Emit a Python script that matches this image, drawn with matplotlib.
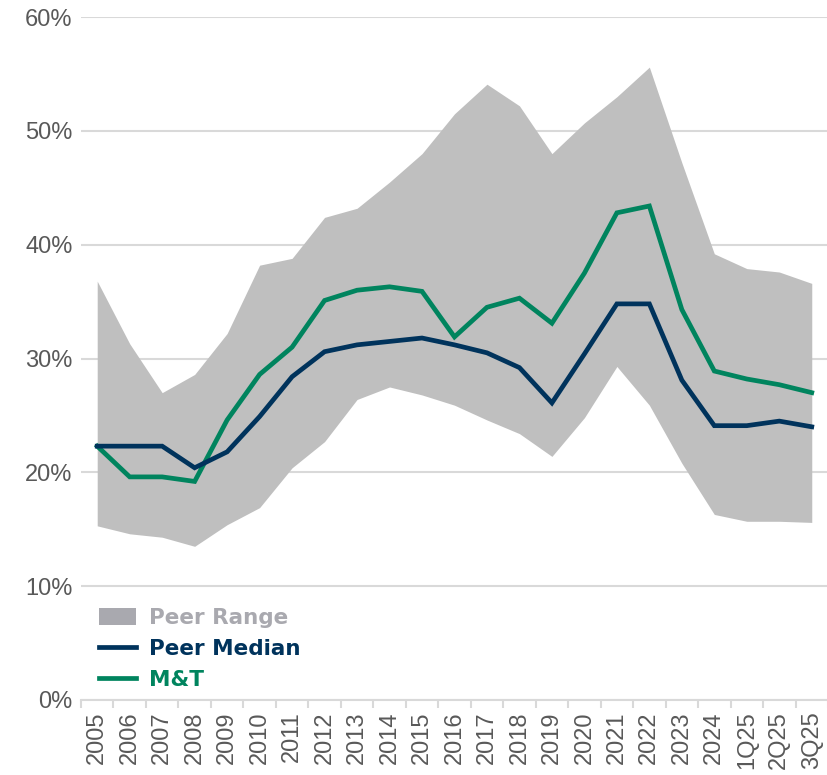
import numpy as np
import matplotlib
matplotlib.use("Agg")
import matplotlib.pyplot as plt
from matplotlib.patches import Patch
from matplotlib.lines import Line2D

plt.rcParams['font.family'] = ['Liberation Sans', 'DejaVu Sans']

categories = ["2005", "2006", "2007", "2008", "2009", "2010", "2011", "2012",
              "2013", "2014", "2015", "2016", "2017", "2018", "2019", "2020",
              "2021", "2022", "2023", "2024", "1Q25", "2Q25", "3Q25"]

range_high = [36.8, 31.3, 27.0, 28.6, 32.2, 38.2, 38.8, 42.4, 43.2, 45.5, 48.0,
              51.5, 54.1, 52.2, 48.0, 50.7, 53.0, 55.6, 47.2, 39.2, 37.9, 37.6, 36.6]
range_low = [15.3, 14.6, 14.3, 13.5, 15.4, 16.9, 20.4, 22.7, 26.4, 27.5, 26.8,
             25.9, 24.6, 23.4, 21.4, 24.8, 29.3, 25.9, 20.8, 16.3, 15.7, 15.7, 15.6]
peer_median = [22.3, 22.3, 22.3, 20.4, 21.8, 24.9, 28.4, 30.6, 31.2, 31.5, 31.8,
               31.2, 30.5, 29.2, 26.1, 30.4, 34.8, 34.8, 28.1, 24.1, 24.1, 24.5, 24.0]
mtb = [22.3, 19.6, 19.6, 19.2, 24.6, 28.6, 31.0, 35.1, 36.0, 36.3, 35.9,
       31.9, 34.5, 35.3, 33.1, 37.5, 42.8, 43.4, 34.3, 28.9, 28.2, 27.7, 27.0]

navy = "#00335C"
green = "#00845E"
fill_grey = "#BFBFBF"
legend_grey = "#A9A9AF"
text_grey = "#595959"

fig = plt.figure(figsize=(8.28, 7.75), dpi=100)
ax = fig.add_axes([0.0978, 0.0968, 0.9022, 0.8812])

x = np.arange(len(categories))
ax.fill_between(x, range_low, range_high, color=fill_grey, linewidth=0, zorder=2)
ax.plot(x, peer_median, color=navy, linewidth=3.4, zorder=4, solid_joinstyle='miter')
ax.plot(x, mtb, color=green, linewidth=3.4, zorder=3, solid_joinstyle='miter')

ax.set_ylim(0, 60)
ax.set_xlim(-0.5, 22.35)
ax.set_yticks(np.arange(0, 61, 10))
ax.set_yticklabels([f"{v}%" for v in range(0, 61, 10)], fontsize=17, color=text_grey)
ax.grid(axis='y', color="#D9D9D9", linewidth=1.5, zorder=0)
ax.set_axisbelow(True)

ax.set_xticks(x)
ax.set_xticklabels(categories, rotation=90, fontsize=17, color=text_grey)
ax.tick_params(axis='x', length=0, pad=8)
ax.tick_params(axis='y', length=0, pad=6)
# boundary ticks between categories
ax.set_xticks(np.arange(-0.5, 23, 1), minor=True)
ax.tick_params(axis='x', which='minor', length=6, width=1.5, color="#D9D9D9")

for s in ['top', 'right', 'left']:
    ax.spines[s].set_visible(False)
ax.spines['bottom'].set_color("#D9D9D9")
ax.spines['bottom'].set_linewidth(1.5)

handles = [Patch(facecolor=legend_grey, edgecolor='none'),
           Line2D([0], [0], color=navy, linewidth=3.4),
           Line2D([0], [0], color=green, linewidth=3.4)]
labels = ["Peer Range", "Peer Median", "M&T"]
leg = ax.legend(handles, labels, loc='upper left', bbox_to_anchor=(0.012, 0.148),
                frameon=False, handlelength=1.75, handleheight=0.9, handletextpad=0.6,
                labelspacing=0.5, borderaxespad=0,
                prop={'family': 'DejaVu Sans', 'size': 15.5, 'weight': 'heavy'})
for t, c in zip(leg.get_texts(), [legend_grey, navy, green]):
    t.set_color(c)

fig.savefig("out.png", dpi=100)
